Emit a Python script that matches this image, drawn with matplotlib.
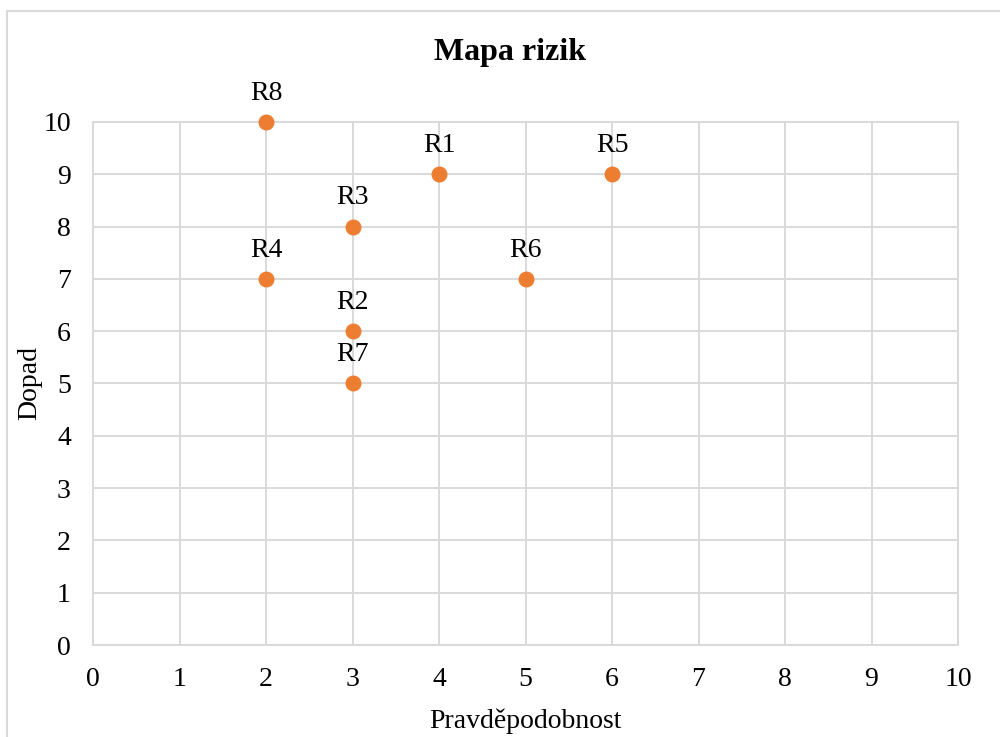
import matplotlib.pyplot as plt
from matplotlib.patches import Rectangle

# Risk data: probability (x) and impact (y)
labels = ['R1', 'R2', 'R3', 'R4', 'R5', 'R6', 'R7', 'R8']
probability = [4, 3, 3, 2, 6, 5, 3, 2]
impact = [9, 6, 8, 7, 9, 7, 5, 10]
ticks = list(range(0, 11))

plt.rcParams['font.family'] = ['Liberation Serif', 'DejaVu Serif']

fig = plt.figure(figsize=(10, 7.37), dpi=100)
ax = fig.add_axes([0.093, 0.1248, 0.865, 0.7097])

# Chart area border (runs off the right and bottom edges)
top = 1 - 11 / 737
fig.patches.append(Rectangle((0.007, -0.1), 1.1, top + 0.1, transform=fig.transFigure,
                             fill=False, edgecolor='#d9d9d9', linewidth=1.5))

ax.scatter(probability, impact, s=110, color='#ED7D31', zorder=3, clip_on=False)
for lab, x, y in zip(labels, probability, impact):
    ax.annotate(lab, (x, y), xytext=(0, 16), textcoords='offset points',
                ha='center', va='baseline', fontsize=20)

ax.set_xlim(0, 10)
ax.set_ylim(0, 10)
ax.set_xticks(ticks)
ax.set_yticks(ticks)
ax.tick_params(length=0, labelsize=20, pad=16)
ax.grid(True, color='#d9d9d9', linewidth=1.4)
ax.set_axisbelow(True)
for s in ax.spines.values():
    s.set_color('#d9d9d9')
    s.set_linewidth(1.4)

fig.text(0.51, 1 - 60 / 737, 'Mapa rizik', fontsize=23, fontweight='bold',
         ha='center', va='baseline')
ax.set_xlabel('Pravděpodobnost', fontsize=20, labelpad=12)
ax.set_ylabel('Dopad', fontsize=20, labelpad=1)

plt.savefig('out.png')
